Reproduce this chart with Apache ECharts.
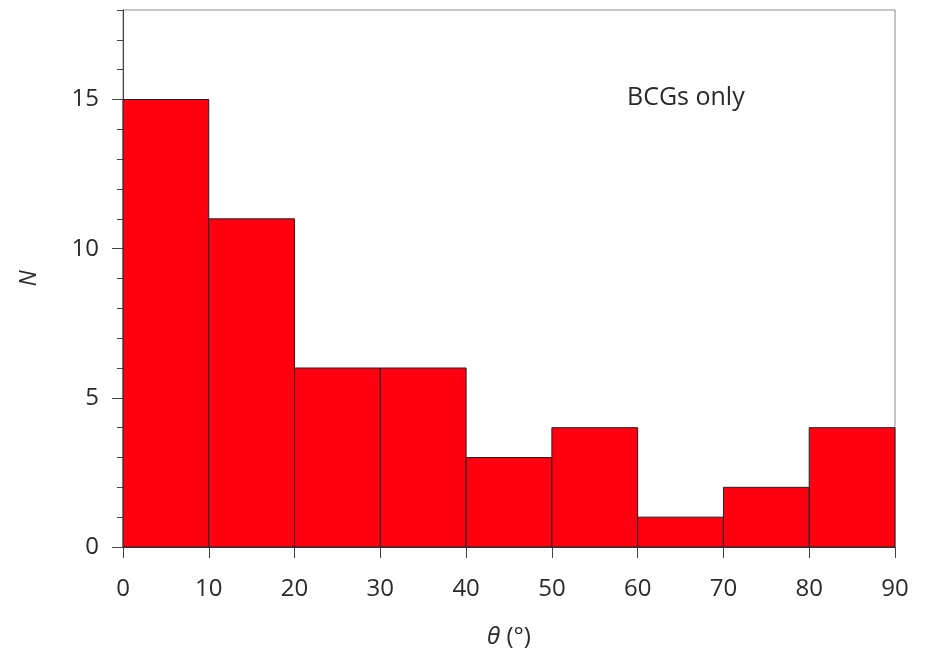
<!DOCTYPE html>
<html><head><meta charset="utf-8">
<script src="https://cdn.jsdelivr.net/npm/echarts@6/dist/echarts.min.js"></script>
<style>html,body{margin:0;padding:0;background:#fff}#c{width:930px;height:650px}</style>
</head><body><div id="c"></div>
<script>
const binStarts = [0, 10, 20, 30, 40, 50, 60, 70, 80];
const binEnds   = [10, 20, 30, 40, 50, 60, 70, 80, 90];
const counts    = [15, 11, 6, 6, 3, 4, 1, 2, 4];
const yMajorTicks = [0, 5, 10, 15];
const annotation = 'BCGs only';

const FONT = '"Open Sans", sans-serif';
const data = binStarts.map((s, i) => [s, binEnds[i], counts[i]]);
const chart = echarts.init(document.getElementById('c'), null, {renderer: 'canvas'});
chart.setOption({
  animation: false,
  grid: {left: 123, right: 35, top: 10, bottom: 103, show: true, borderColor: '#8a8a8a', borderWidth: 1,
    backgroundColor: 'transparent', containLabel: false, outerBoundsMode: 'none'},
  xAxis: {
    type: 'value', min: 0, max: 90, interval: 10,
    axisLine: {show: true, lineStyle: {color: '#444', width: 1}},
    axisTick: {show: true, inside: false, length: 11, lineStyle: {color: '#444'}},
    splitLine: {show: false},
    axisLabel: {margin: 30, fontSize: 24, color: '#2a2a2a', fontFamily: FONT},
    name: '{i|θ} (°)', nameLocation: 'middle', nameGap: 78,
    nameTextStyle: {fontSize: 24, color: '#2a2a2a', fontFamily: FONT,
      rich: {i: {fontStyle: 'italic', fontSize: 24, color: '#2a2a2a', fontFamily: FONT}}}
  },
  yAxis: [{
    type: 'value', min: 0, max: 18, interval: 1,
    axisLine: {show: true, lineStyle: {color: '#444', width: 1}},
    axisTick: {show: true, inside: false, length: 6, lineStyle: {color: '#444'}},
    splitLine: {show: false},
    axisLabel: {margin: 24, fontSize: 24, color: '#2a2a2a', fontFamily: FONT,
      formatter: v => (yMajorTicks.indexOf(v) >= 0 ? String(v) : '')},
    name: 'N', nameLocation: 'middle', nameGap: 82, nameRotate: 90,
    nameTextStyle: {fontSize: 23, fontStyle: 'italic', color: '#2a2a2a', fontFamily: FONT}
  }, {
    type: 'value', min: 0, max: 18, position: 'left',
    axisLine: {show: false},
    axisTick: {show: true, inside: false, length: 11, customValues: yMajorTicks, lineStyle: {color: '#444'}},
    axisLabel: {show: false},
    splitLine: {show: false}
  }],
  graphic: [{
    type: 'text', left: 627, top: 85,
    style: {text: annotation, fontSize: 25, fill: '#2a2a2a', fontFamily: FONT}
  }],
  series: [{
    type: 'custom',
    data: data,
    encode: {x: [0, 1], y: 2},
    renderItem: function (params, api) {
      const p0 = api.coord([api.value(0), api.value(2)]);
      const p1 = api.coord([api.value(1), 0]);
      return {
        type: 'rect',
        shape: {x: p0[0], y: p0[1], width: p1[0] - p0[0], height: p1[1] - p0[1]},
        style: {fill: '#ff0010', stroke: '#222', lineWidth: 1}
      };
    }
  }]
});
</script></body></html>
